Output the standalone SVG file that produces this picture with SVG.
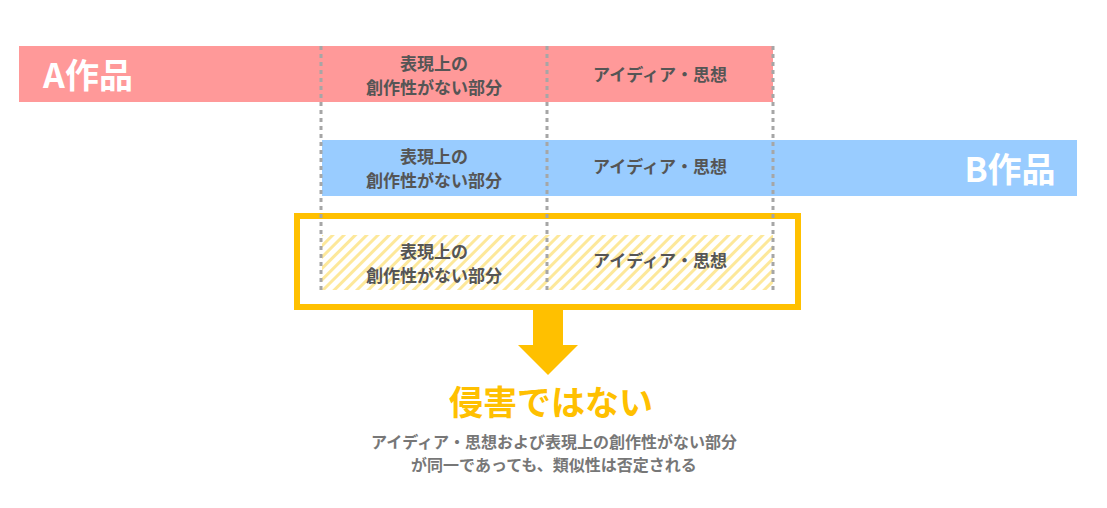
<svg xmlns="http://www.w3.org/2000/svg" width="1107" height="508" viewBox="0 0 1107 508">
<style>
text{font-family:"Noto Sans CJK JP","Noto Sans",sans-serif;font-weight:bold;text-anchor:middle}
.c{font-size:17px;fill:#555}
.big{font-size:34px;fill:#fff}
.dash{stroke:#a6a6a6;stroke-width:3;stroke-dasharray:4 4;fill:none}
</style>
<defs>
<pattern id="h" width="8" height="8" patternUnits="userSpaceOnUse" patternTransform="rotate(45)">
<rect width="8" height="8" fill="#fff"/><rect width="3" height="8" fill="#fde89a"/>
</pattern>
</defs>
<g id="a">
<rect x="19" y="46" width="754" height="56" fill="#ff9999"/>
<text class="big" x="88" y="88">A作品</text>
<text class="c" x="434" y="70">表現上の</text>
<text class="c" x="434" y="94">創作性がない部分</text>
<text class="c" x="660" y="81">アイディア・思想</text>
</g>
<g id="b">
<rect x="322" y="140" width="755" height="56" fill="#99ccff"/>
<text class="big" x="1010" y="182">B作品</text>
<text class="c" x="434" y="163">表現上の</text>
<text class="c" x="434" y="187">創作性がない部分</text>
<text class="c" x="660" y="173">アイディア・思想</text>
</g>
<g id="c">
<rect x="322" y="235" width="451" height="55" fill="url(#h)"/>
<text class="c" x="434" y="258">表現上の</text>
<text class="c" x="434" y="282">創作性がない部分</text>
<text class="c" x="660" y="267">アイディア・思想</text>
<rect x="297" y="216" width="501" height="91" fill="none" stroke="#ffc000" stroke-width="6"/>
</g>
<g id="connectors">
<line class="dash" x1="321" y1="46" x2="321" y2="290"/>
<line class="dash" x1="547" y1="46" x2="547" y2="290"/>
<line class="dash" x1="773" y1="46" x2="773" y2="290"/>
<polygon points="533,310 563,310 563,345 578,345 548,375 518,345 533,345" fill="#ffc000"/>
</g>
<g id="result">
<text x="551" y="415" font-size="34" fill="#ffc000">侵害ではない</text>
<text x="554" y="448" font-size="16" fill="#777" font-weight="normal"><tspan font-weight="bold">アイディア・思想</tspan>および<tspan font-weight="bold">表現上の創作性がない部分</tspan></text>
<text x="554" y="471" font-size="16" fill="#777" font-weight="normal">が同一であっても、類似性は否定される</text>
</g>
</svg>
